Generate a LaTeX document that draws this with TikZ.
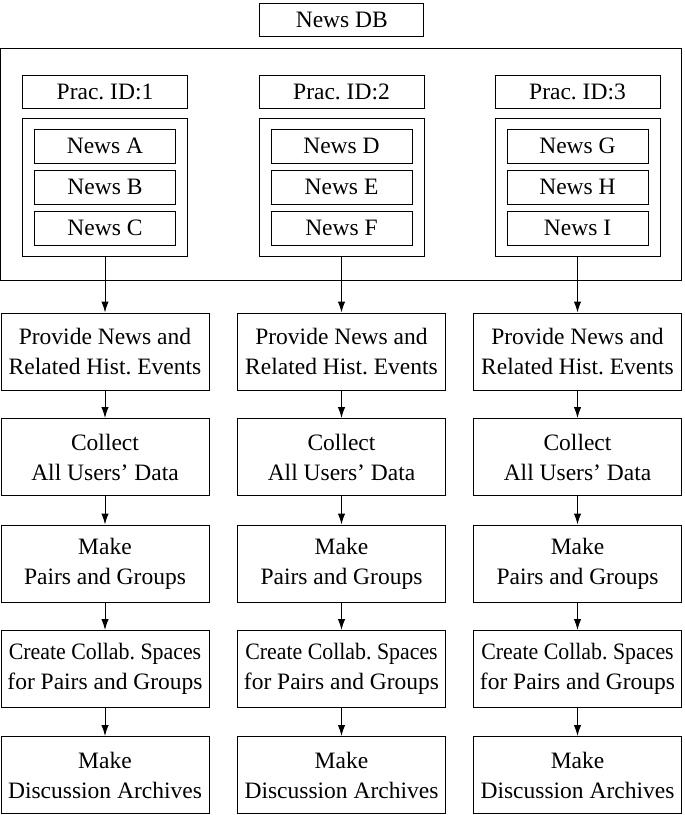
\documentclass[tikz,border=0pt]{standalone}
\usepackage{graphicx}
\usepackage{fontspec}
\setmainfont{Liberation Serif}
\frenchspacing
\usetikzlibrary{arrows.meta}
\begin{document}
\begin{tikzpicture}[x=1pt,y=-1pt,
  base/.style={draw,line width=1pt,inner sep=0pt,align=center,
    font=\fontsize{23.5}{30}\selectfont},
  smallbox/.style={base,minimum width=165pt,minimum height=33pt},
  newsbox/.style={base,minimum width=141pt,minimum height=34pt},
  holder/.style={base,minimum width=165pt,minimum height=138pt},
  flowbox/.style={base,minimum width=208pt,minimum height=77pt},
  outerbox/.style={base,minimum width=681pt,minimum height=232pt},
  arr/.style={line width=1pt,-{Latex[length=11pt,width=7.5pt]}}]
\useasboundingbox (0,0) rectangle (685,815);

\node[smallbox,minimum width=164pt] (db) at (341.8,19.5) {News DB};
\node[outerbox] (outer) at (341.1,164) {};

% practice columns
\foreach \c/\x/\i/\a/\b/\d in {1/105/1/A/B/C, 2/341.5/2/D/E/F, 3/577.5/3/G/H/I}{
  \node[smallbox] (prac\c) at (\x,91.5) {Prac. ID:\i};
  \node[holder] (hold\c) at (\x,187) {};
  \node[newsbox] (na\c) at (\x,146) {News \a};
  \node[newsbox] (nb\c) at (\x,187) {News \b};
  \node[newsbox] (nc\c) at (\x,228) {News \d};
  \node[flowbox] (f1\c) at (\x,351.5) {Provide News and\\Related Hist. Events};
  \node[flowbox] (f2\c) at (\x,457) {Collect\\All Users’ Data};
  \node[flowbox] (f3\c) at (\x,563.5) {Make\\Pairs and Groups};
  \node[flowbox] (f4\c) at (\x,669) {\scalebox{0.93}[1]{Create Collab. Spaces}\\for Pairs and Groups};
  \node[flowbox] (f5\c) at (\x,775) {Make\\Discussion Archives};
  \draw[arr] (hold\c.south) -- (f1\c.north);
  \draw[arr] (f1\c.south) -- (f2\c.north);
  \draw[arr] (f2\c.south) -- (f3\c.north);
  \draw[arr] (f3\c.south) -- (f4\c.north);
  \draw[arr] (f4\c.south) -- (f5\c.north);
}
\end{tikzpicture}
\end{document}
